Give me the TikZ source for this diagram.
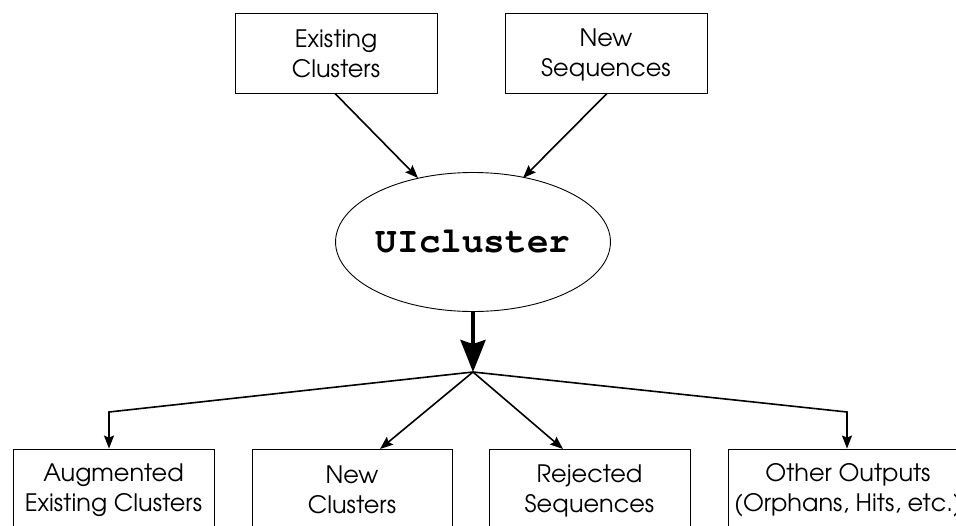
\documentclass[tikz,border=0pt]{standalone}
\usepackage{fontspec}
\setmainfont{TeX Gyre Adventor}
\newfontfamily\codefont{TeX Gyre Cursor}
\usetikzlibrary{arrows.meta,shapes.geometric}
% two centred lines with fixed baselines inside a box
\newcommand\twolines[2]{\rule{0pt}{21pt}#1\\#2\rule[-2pt]{0pt}{2pt}}
\begin{document}
\begin{tikzpicture}[x=1pt,y=-1pt,
  box/.style={draw,line width=0.9pt,rectangle,minimum height=80pt,align=center,
    font=\fontsize{24}{30}\selectfont,inner sep=0pt},
  flow/.style={line width=1.6pt,-{Stealth[length=13pt,width=10pt,inset=2pt]}},
  bigflow/.style={line width=4pt,-{Stealth[length=32pt,width=25pt,inset=4pt]}}]
\useasboundingbox (0,0) rectangle (956,525);
\clip (0,0) rectangle (956,525);
% inputs
\node[box,minimum width=202pt] (ec) at (336,53) {\twolines{Existing}{Clusters}};
\node[box,minimum width=202pt] (ns) at (606,53) {\twolines{New}{Sequences}};
% the program
\node[draw,ellipse,line width=0.9pt,minimum width=230pt,minimum height=139pt,inner sep=0pt]
  (ui) at (473,242) {\codefont\bfseries\fontsize{36}{36}\selectfont UIcluster};
% outputs
\node[box,minimum width=201pt] (aug) at (113.5,489) {\twolines{Augmented}{Existing Clusters}};
\node[box,minimum width=200pt] (nc) at (352,489) {\twolines{New}{Clusters}};
\node[box,minimum width=201pt] (rej) at (589.5,489) {\twolines{Rejected}{Sequences}};
\node[box,minimum width=240pt] (oth) at (848,489) {\twolines{Other Outputs}{(Orphans, Hits, etc.)}};
% routing points
\coordinate (j) at (473,372);
\coordinate (cl) at (109,412);
\coordinate (cr) at (847,412);
% connectors
\draw[flow] (ec.south -| 335,0) -- (418,178);
\draw[flow] (ns.south -| 607,0) -- (523,178);
\draw[bigflow] (ui.south) -- (j);
\draw[flow] (j) -- (cl) -- (aug.north -| cl);
\draw[flow] (j) -- (380,449);
\draw[flow] (j) -- (563,449);
\draw[flow] (j) -- (cr) -- (oth.north -| cr);
\end{tikzpicture}
\end{document}
